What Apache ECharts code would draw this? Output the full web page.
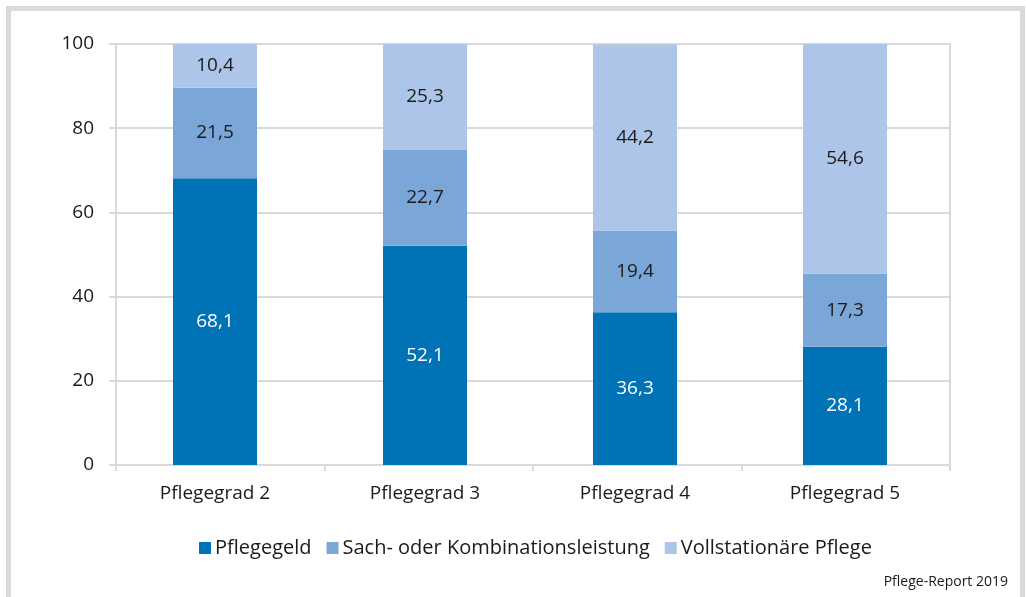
<!DOCTYPE html>
<html>
<head>
<meta charset="utf-8">
<script src="https://cdn.jsdelivr.net/npm/echarts@6/dist/echarts.min.js"></script>
<style>
  html, body { margin: 0; padding: 0; background: #ffffff; }
  #chart { width: 1026px; height: 597px; }
</style>
</head>
<body>
<div id="chart"></div>
<script>
// Leistungsarten je Pflegegrad, Anteile in Prozent
const categories = ['Pflegegrad 2', 'Pflegegrad 3', 'Pflegegrad 4', 'Pflegegrad 5'];
const seriesNames = ['Pflegegeld', 'Sach- oder Kombinationsleistung', 'Vollstationäre Pflege'];
const pflegegeld = [68.1, 52.1, 36.3, 28.1];
const sachKombi = [21.5, 22.7, 19.4, 17.3];
const vollstationaer = [10.4, 25.3, 44.2, 54.6];
const yTicks = [0, 20, 40, 60, 80, 100];
const sourceNote = 'Pflege-Report 2019';

const FONT = 'Open Sans';
const colors = ['#0072b6', '#7ba7d8', '#adc5e9'];
const labelColors = ['#ffffff', '#1a1a1a', '#1a1a1a'];
const gridColor = '#d9d9d9';

const fmt = v => v.toFixed(1).replace('.', ',');

const values = [pflegegeld, sachKombi, vollstationaer];
const yMin = yTicks[0];
const yMax = yTicks[yTicks.length - 1];

const chart = echarts.init(document.getElementById('chart'), null, { renderer: 'canvas' });

chart.setOption({
  animation: false,
  backgroundColor: '#ffffff',
  textStyle: { fontFamily: FONT },
  // grid 0: frame, gridlines and axis ticks; grid 1: bars and category labels
  grid: [
    {
      left: 116, right: 76, top: 44, bottom: 132,
      show: true, borderColor: gridColor, borderWidth: 2, backgroundColor: 'transparent'
    },
    { left: 110, right: 76, top: 44, bottom: 132 }
  ],
  legend: {
    data: seriesNames,
    bottom: 34,
    left: 194,
    itemWidth: 12,
    itemHeight: 12,
    itemGap: 15,
    icon: 'rect',
    textStyle: { fontFamily: FONT, fontSize: 20, color: '#1a1a1a', padding: [0, 0, 0, -1] }
  },
  xAxis: [
    {
      type: 'category',
      gridIndex: 0,
      data: categories,
      axisLine: { lineStyle: { color: gridColor, width: 2 } },
      axisTick: { show: true, length: 6, lineStyle: { color: gridColor, width: 2 } },
      axisLabel: { show: false }
    },
    {
      type: 'category',
      gridIndex: 1,
      data: categories,
      axisLine: { show: false },
      axisTick: { show: false },
      axisLabel: { fontFamily: FONT, fontSize: 19, color: '#1a1a1a', margin: 19 }
    }
  ],
  yAxis: [
    {
      type: 'value',
      gridIndex: 0,
      min: yMin,
      max: yMax,
      interval: yTicks[1] - yTicks[0],
      axisLine: { show: true, lineStyle: { color: gridColor, width: 2 } },
      axisTick: { show: true, length: 7, lineStyle: { color: gridColor, width: 2 } },
      splitLine: { lineStyle: { color: gridColor, width: 2 } },
      axisLabel: { fontFamily: FONT, fontSize: 19, color: '#1a1a1a', margin: 22 }
    },
    {
      type: 'value',
      gridIndex: 1,
      min: yMin,
      max: yMax,
      show: false,
      splitLine: { show: false }
    }
  ],
  series: seriesNames.map((name, i) => ({
    name,
    type: 'bar',
    xAxisIndex: 1,
    yAxisIndex: 1,
    stack: 'total',
    barWidth: 84,
    data: values[i],
    itemStyle: { color: colors[i] },
    label: {
      show: true,
      position: 'inside',
      formatter: p => fmt(p.value),
      fontFamily: FONT,
      fontSize: 19,
      color: labelColors[i]
    }
  })),
  graphic: [
    {
      type: 'rect',
      shape: { x: 8.5, y: 8.5, width: 1014, height: 620 },
      style: { fill: 'none', stroke: '#dadada', lineWidth: 5 },
      silent: true
    },
    {
      type: 'text',
      right: 18,
      top: 575,
      style: { text: sourceNote, font: '14px ' + FONT, fill: '#1a1a1a' }
    }
  ]
});
</script>
</body>
</html>
